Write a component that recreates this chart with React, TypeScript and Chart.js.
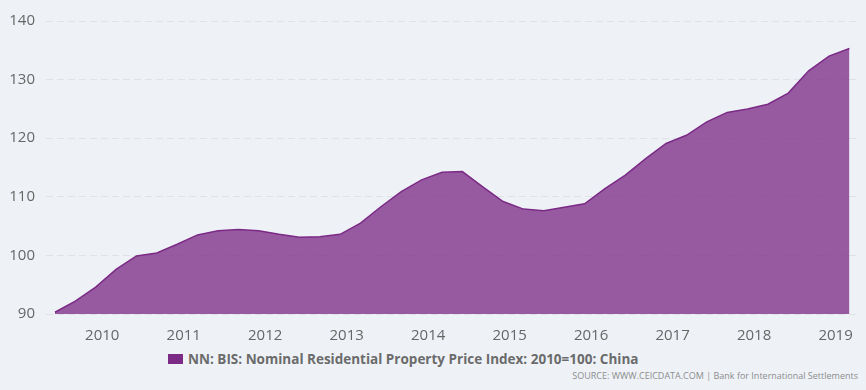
import React, { useEffect, useRef } from "react";
import { Chart, registerables } from "chart.js";

Chart.register(...registerables);

const QUARTERS = [
  "2009Q2", "2009Q3", "2009Q4",
  "2010Q1", "2010Q2", "2010Q3", "2010Q4",
  "2011Q1", "2011Q2", "2011Q3", "2011Q4",
  "2012Q1", "2012Q2", "2012Q3", "2012Q4",
  "2013Q1", "2013Q2", "2013Q3", "2013Q4",
  "2014Q1", "2014Q2", "2014Q3", "2014Q4",
  "2015Q1", "2015Q2", "2015Q3", "2015Q4",
  "2016Q1", "2016Q2", "2016Q3", "2016Q4",
  "2017Q1", "2017Q2", "2017Q3", "2017Q4",
  "2018Q1", "2018Q2", "2018Q3", "2018Q4",
  "2019Q1",
];

const INDEX_VALUES = [
  90.3, 92.2, 94.6,
  97.6, 99.9, 100.4, 101.9,
  103.5, 104.2, 104.4, 104.2,
  103.6, 103.1, 103.2, 103.6,
  105.5, 108.3, 110.9, 112.9,
  114.2, 114.3, 111.7, 109.2,
  107.9, 107.6, 108.2, 108.8,
  111.4, 113.7, 116.5, 119.1,
  120.5, 122.8, 124.4, 125.0,
  125.8, 127.7, 131.5, 134.0,
  135.3,
];

const YEAR_TICKS = [2010, 2011, 2012, 2013, 2014, 2015, 2016, 2017, 2018, 2019];
const Y_TICKS = [90, 100, 110, 120, 130, 140];

const SERIES_NAME = "NN: BIS: Nominal Residential Property Price Index: 2010=100: China";
const SOURCE_TEXT = "SOURCE: WWW.CEICDATA.COM | Bank for International Settlements";

const quarterToX = (q: string) => {
  const year = parseInt(q.slice(0, 4), 10);
  const qn = parseInt(q.slice(5), 10);
  return year + (qn - 1) * 0.25 + 0.17;
};

const LINE_COLOR = "#7b2a86";
const FILL_COLOR = "rgba(123,42,134,0.76)";
const BG = "#eef2f7";

export default function App() {
  const canvasRef = useRef<HTMLCanvasElement | null>(null);

  useEffect(() => {
    document.body.style.margin = "0";
    const ctx = canvasRef.current;
    if (!ctx) return;
    const chart = new Chart(ctx, {
      type: "line",
      data: {
        datasets: [
          {
            label: SERIES_NAME,
            data: QUARTERS.map((q, i) => ({ x: quarterToX(q), y: INDEX_VALUES[i] })),
            borderColor: LINE_COLOR,
            borderWidth: 1.5,
            backgroundColor: FILL_COLOR,
            fill: "origin",
            pointRadius: 0,
            tension: 0,
          },
        ],
      },
      options: {
        animation: false,
        responsive: false,
        maintainAspectRatio: false,
        layout: { padding: { top: 21, right: 6, left: 0, bottom: 0 } },
        plugins: {
          legend: { display: false },
          tooltip: { enabled: false },
        },
        scales: {
          x: {
            type: "linear",
            min: 2009.31,
            max: 2019.3,
            afterBuildTicks: (axis: any) => {
              axis.ticks = YEAR_TICKS.map((v) => ({ value: v }));
            },
            afterFit: (axis: any) => {
              axis.height = 26;
            },
            grid: { display: false },
            border: { display: false },
            ticks: {
              autoSkip: false,
              maxRotation: 0,
              padding: 5,
              color: "#666666",
              font: { family: "'Open Sans', sans-serif", size: 15 },
              callback: (v: any) => String(v),
            },
          },
          y: {
            min: 90,
            max: 140,
            afterBuildTicks: (axis: any) => {
              axis.ticks = Y_TICKS.map((v) => ({ value: v }));
            },
            afterFit: (axis: any) => {
              axis.width = 46;
            },
            border: { display: false, dash: [7, 4] },
            grid: {
              color: "#dfe3e8",
              lineWidth: 1,
              drawTicks: false,
            },
            ticks: {
              padding: 11,
              color: "#666666",
              font: { family: "'Open Sans', sans-serif", size: 15 },
              callback: (v: any) => String(v),
            },
          },
        },
      },
    });
    return () => chart.destroy();
  }, []);

  return (
    <div style={{ position: "relative", width: 866, height: 390, background: BG, overflow: "hidden" }}>
      <canvas ref={canvasRef} width={866} height={340} style={{ display: "block", width: 866, height: 340 }} />
      <div
        style={{
          position: "absolute",
          left: 168,
          top: 350,
          display: "flex",
          alignItems: "center",
          fontFamily: "'Open Sans', sans-serif",
          fontWeight: 700,
          fontSize: 13.5,
          color: "#6b6b6b",
          whiteSpace: "nowrap",
        }}
      >
        <span style={{ display: "inline-block", width: 15, height: 10, background: LINE_COLOR, marginRight: 5 }} />
        <span>{SERIES_NAME}</span>
      </div>
      <div
        style={{
          position: "absolute",
          right: 8,
          top: 369,
          fontFamily: "'Open Sans', sans-serif",
          fontSize: 9,
          color: "#8c8c8c",
          whiteSpace: "nowrap",
        }}
      >
        {SOURCE_TEXT}
      </div>
    </div>
  );
}
